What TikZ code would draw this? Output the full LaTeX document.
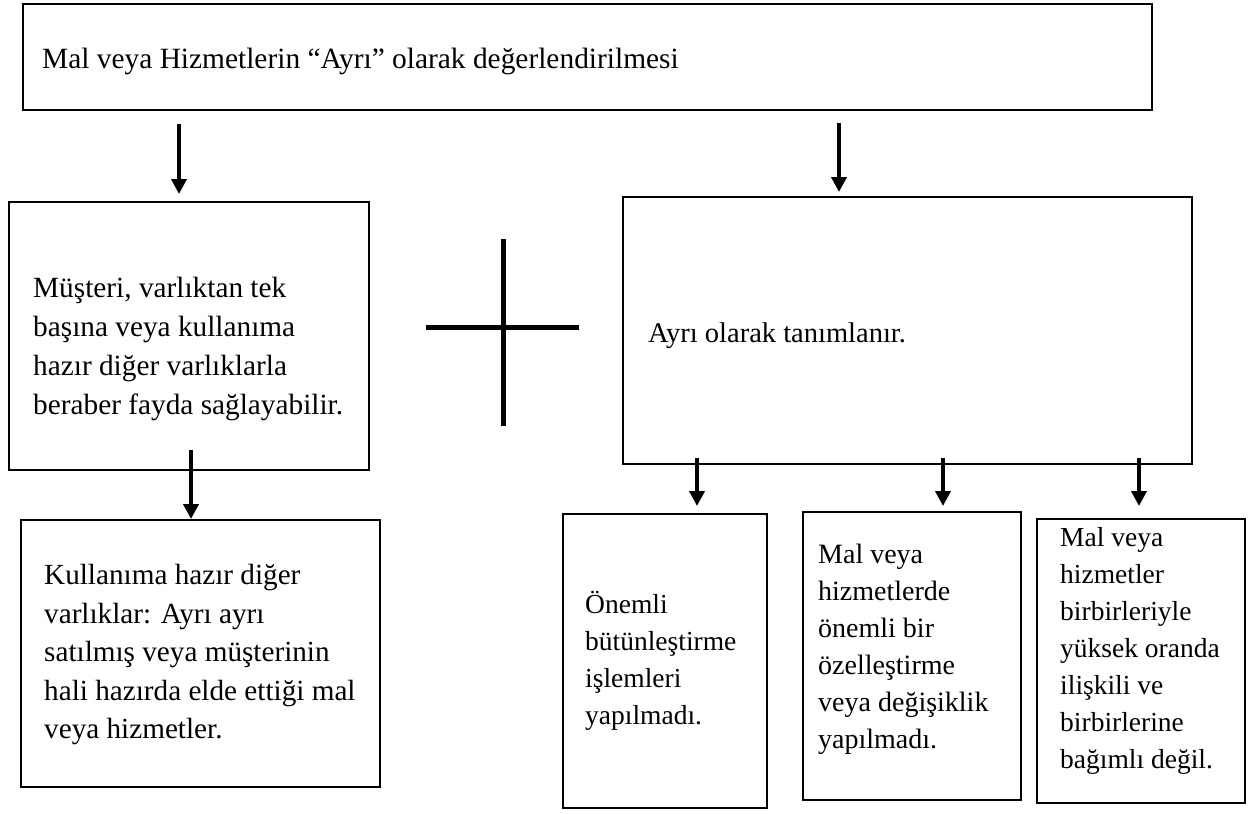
\documentclass[tikz,border=0pt]{standalone}
\usepackage{fontspec}
\setmainfont{Liberation Serif}
\usetikzlibrary{arrows.meta}

\newcommand{\yazi}[2]{\fontsize{#1}{#2}\selectfont}

\tikzset{
	kutu/.style={draw, line width=2pt, rectangle, inner sep=0pt},
	metin/.style={align=left, inner sep=0pt, anchor=west},
	ok/.style={line width=4.5pt, -{Triangle[length=15pt,width=15pt]}},
	arti/.style={line width=5pt}
}

\begin{document}
\begin{tikzpicture}[x=1pt, y=-1pt]
	\useasboundingbox (0,0) rectangle (1259,814);

	% Boxes
	\node[kutu, minimum width=1129pt, minimum height=106pt] (ust) at (587.5,57) {};
	\node[kutu, minimum width=360pt, minimum height=268pt] (musteri) at (189,336) {};
	\node[kutu, minimum width=359pt, minimum height=267pt] (hazir) at (200.5,653.5) {};
	\node[kutu, minimum width=569pt, minimum height=267pt] (ayri) at (907.5,330.5) {};
	\node[kutu, minimum width=204pt, minimum height=294pt] (onemli) at (665,661) {};
	\node[kutu, minimum width=218pt, minimum height=288pt] (ozel) at (912,656) {};
	\node[kutu, minimum width=208pt, minimum height=284pt] (iliski) at (1141,661) {};

	% Texts in the boxes
	\node[metin, font=\yazi{29.4}{38.7}] (ust-m) at (42,61) {Mal veya Hizmetlerin “Ayrı” olarak değerlendirilmesi};
	\node[metin, font=\yazi{29.3}{38.7}] (musteri-m) at (33,349) {Müşteri, varlıktan tek\\ başına veya kullanıma\\ hazır diğer varlıklarla\\ beraber fayda sağlayabilir.};
	\node[metin, font=\yazi{29.2}{38.5}] (hazir-m) at (44,655) {Kullanıma hazır diğer\\ varlıklar: Ayrı ayrı\\ satılmış veya müşterinin\\ hali hazırda elde ettiği mal\\ veya hizmetler.};
	\node[metin, font=\yazi{28.5}{37.5}] (ayri-m) at (648,336) {Ayrı olarak tanımlanır.};
	\node[metin, font=\yazi{27.5}{37}] (onemli-m) at (585,661) {Önemli\\ bütünleştirme\\ işlemleri\\ yapılmadı.};
	\node[metin, font=\yazi{28}{37}] (ozel-m) at (818,649) {Mal veya\\ hizmetlerde\\ önemli bir\\ özelleştirme\\ veya değişiklik\\ yapılmadı.};
	\node[metin, font=\yazi{27.5}{37}] (iliski-m) at (1060,651) {Mal veya\\ hizmetler\\ birbirleriyle\\ yüksek oranda\\ ilişkili ve\\ birbirlerine\\ bağımlı değil.};

	% Arrows
	\draw[ok] ([xshift=-408.5pt,yshift=-13pt]ust.south) -- ([xshift=-10pt,yshift=7pt]musteri.north);
	\draw[ok] ([xshift=251.5pt,yshift=-12pt]ust.south) -- ([xshift=-68.5pt,yshift=4pt]ayri.north);
	\draw[ok] ([xshift=2pt,yshift=21pt]musteri.south) -- ([xshift=-9.5pt]hazir.north);
	\draw[ok] ([xshift=-210.5pt,yshift=7pt]ayri.south) -- ([xshift=32pt,yshift=7pt]onemli.north);
	\draw[ok] ([xshift=35.5pt,yshift=7pt]ayri.south) -- ([xshift=31pt,yshift=5pt]ozel.north);
	\draw[ok] ([xshift=231.5pt,yshift=7pt]ayri.south) -- ([xshift=-2pt,yshift=12pt]iliski.north);

	% The plus sign
	\draw[arti] (503,239) -- (503,426);
	\draw[arti] (426,327) -- (579,327);
\end{tikzpicture}
\end{document}
